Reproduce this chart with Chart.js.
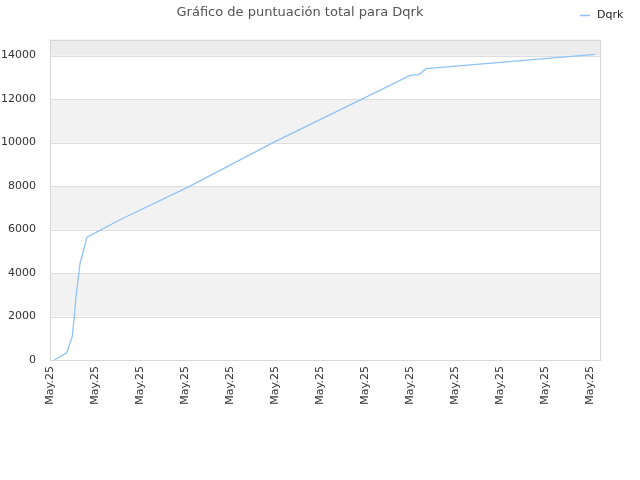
<!DOCTYPE html>
<html>
<head>
<meta charset="utf-8">
<script src="https://cdn.jsdelivr.net/npm/chart.js@4/dist/chart.umd.min.js"></script>
<style>
html,body{margin:0;padding:0;background:#fff;}
#wrap{width:640px;height:480px;}
</style>
</head>
<body>
<div id="wrap"><canvas id="scoreChart" width="640" height="480"></canvas></div>
<script>
// data (x = position along the date axis, one unit per label)
const seriesName = 'Dqrk';
const dayPos = [0.096, 0.371, 0.496, 0.540, 0.578, 0.667, 0.727, 0.822, 1.556, 3.111, 4.956, 6.933, 8.0, 8.2, 8.356, 12.111];
const totalScore = [0, 330, 1100, 2000, 2900, 4450, 4900, 5650, 6450, 8000, 10000, 12000, 13090, 13130, 13400, 14060];
const xTickLabels = ['May.25','May.25','May.25','May.25','May.25','May.25','May.25','May.25','May.25','May.25','May.25','May.25','May.25'];
const yTicks = [0, 2000, 4000, 6000, 8000, 10000, 12000, 14000];
const yTop = 14737;

const lineColor = '#90c2f6';
const font = "'DejaVu Sans', sans-serif";

// alternate grey bands + frame + legend
const chrome = {
  id:'chrome',
  beforeDatasetsDraw(chart){
    const {ctx, chartArea:a, scales:{y}} = chart;
    ctx.save();
    for(let i=0;i<yTicks.length;i++){
      const lo=yTicks[i], hi=i+1<yTicks.length?yTicks[i+1]:yTop;
      let col=null;
      if(i%2===1) col='#f2f2f2';
      if(i===yTicks.length-1) col='#ececec';
      if(!col) continue;
      ctx.fillStyle=col;
      const y1=y.getPixelForValue(hi), y0=y.getPixelForValue(lo);
      ctx.fillRect(a.left,y1,a.right-a.left,y0-y1);
    }
    // horizontal grid lines
    ctx.strokeStyle='#dddddd'; ctx.lineWidth=1;
    yTicks.forEach(v=>{
      const py=Math.round(y.getPixelForValue(v))+0.5;
      ctx.beginPath(); ctx.moveTo(a.left,py); ctx.lineTo(a.right,py); ctx.stroke();
    });
    ctx.strokeStyle='#d6d6d6';
    ctx.strokeRect(Math.round(a.left)+0.5,Math.round(a.top)+0.5,Math.round(a.right-a.left),Math.round(a.bottom-a.top));
    ctx.restore();
  },
  afterDraw(chart){
    const ctx=chart.ctx;
    ctx.save();
    ctx.strokeStyle=lineColor; ctx.lineWidth=1.5;
    ctx.beginPath(); ctx.moveTo(580,15.5); ctx.lineTo(590,15.5); ctx.stroke();
    ctx.fillStyle='#222'; ctx.font='11px '+font; ctx.textBaseline='middle';
    ctx.fillText(chart.data.datasets[0].label,597,15);
    ctx.restore();
  }
};

new Chart(document.getElementById('scoreChart'),{
  type:'line',
  data:{datasets:[{
    label:seriesName,
    data:dayPos.map((x,i)=>({x:x,y:totalScore[i]})),
    borderColor:lineColor, borderWidth:1.3, pointRadius:0, tension:0, fill:false
  }]},
  options:{
    responsive:false, animation:false,
    layout:{padding:{left:0,right:40,top:0,bottom:0}},
    plugins:{
      legend:{display:false},
      tooltip:{enabled:false},
      title:{display:true,text:'Gráfico de puntuación total para Dqrk',color:'#555',
        font:{family:font,size:13,weight:'normal'},padding:{top:5,bottom:19}}
    },
    scales:{
      x:{type:'linear',min:0,max:12.222,
        afterFit(s){s.height=120;},
        afterBuildTicks(s){s.ticks=xTickLabels.map((t,i)=>({value:i}));},
        grid:{display:false,drawTicks:true,tickLength:4},
        border:{color:'#d6d6d6'},
        ticks:{autoSkip:false,minRotation:90,maxRotation:90,color:'#333',
          font:{family:font,size:11},padding:2,
          callback:(v,i)=>xTickLabels[i]}
      },
      y:{min:0,max:yTop,
        afterFit(s){s.width=50;},
        afterBuildTicks(s){s.ticks=yTicks.map(v=>({value:v}));},
        grid:{display:false},
        border:{color:'#d6d6d6'},
        ticks:{color:'#333',font:{family:font,size:11},padding:6,
          callback:v=>String(v)}
      }
    }
  },
  plugins:[chrome]
});
</script>
</body>
</html>
